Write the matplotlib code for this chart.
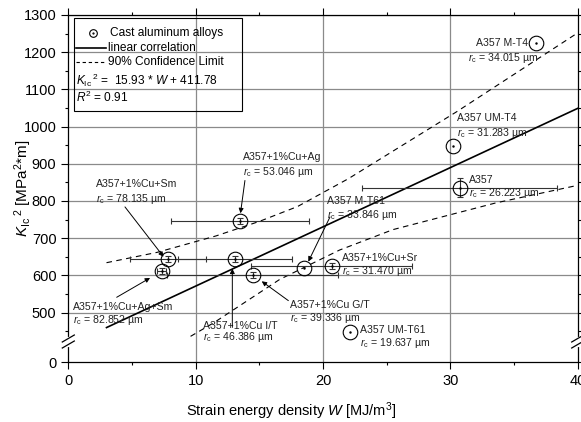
import numpy as np
import matplotlib
matplotlib.use("Agg")
import matplotlib.pyplot as plt
from matplotlib.patches import Rectangle

plt.rcParams['font.family'] = ['Liberation Sans', 'DejaVu Sans']
plt.rcParams['mathtext.fontset'] = 'custom'
plt.rcParams['mathtext.rm'] = 'Liberation Sans'
plt.rcParams['mathtext.it'] = 'Liberation Sans:italic'
plt.rcParams['mathtext.bf'] = 'Liberation Sans:bold'

# ---------------- data ----------------
alloys = ['A357+1%Cu+Ag+Sm', 'A357+1%Cu+Sm', 'A357+1%Cu I/T', 'A357+1%Cu+Ag',
          'A357+1%Cu G/T', 'A357 M-T61', 'A357+1%Cu+Sr', 'A357 UM-T61',
          'A357 UM-T4', 'A357', 'A357 M-T4']
rc_um = ['82.852', '78.135', '46.386', '53.046', '39.336', '33.846', '31.470',
         '19.637', '31.283', '26.223', '34.015']
W = [7.33, 7.85, 13.08, 13.48, 14.47, 18.5, 20.68, 22.1, 30.22, 30.73, 36.7]
K2 = [610.5, 645, 645, 746, 601.5, 620.5, 625, 449, 948, 836, 1225]
W_err = [0.35, 3.0, 4.5, 5.4, 6.7, np.nan, 6.3, np.nan, np.nan, 7.65, np.nan]
K2_err = [8, 8, 8, 8, 8, np.nan, 8, np.nan, np.nan, 26, np.nan]

fit_slope = 15.93
fit_intercept = 411.78
fit_R2 = 0.91
fit_W = [3, 40]

upper_W = [3, 7, 11.6, 15, 18, 22, 30.5, 40]
upper_K2 = [634, 662, 706, 745, 785, 860, 1040, 1252]
lower_W = [9.6, 11.4, 16.6, 21.3, 25.5, 33.6, 40]
lower_K2 = [436, 472, 589, 668, 723, 795, 842]

y_ticks = [500, 600, 700, 800, 900, 1000, 1100, 1200, 1300]

# ---------------- layout ----------------
Y0 = 367  # position that represents 0 below the axis break
fig = plt.figure(figsize=(5.81, 4.22), dpi=100)
ax = fig.add_axes([68.3 / 581, 1 - 362 / 422, 509.4 / 581, 347 / 422])
ax.set_xlim(0, 40)
ax.set_ylim(Y0, 1300)

grid_c = '#8a8a8a'
for yv in y_ticks:
    ax.axhline(yv, color=grid_c, lw=0.9, zorder=0)
for xv in [10, 20, 30]:
    ax.axvline(xv, color=grid_c, lw=0.9, zorder=0)

# fit line and confidence limits
fit_W = np.array(fit_W, dtype=float)
ax.plot(fit_W, fit_slope * fit_W + fit_intercept, color='black', lw=1.2, zorder=3)
ax.plot(upper_W, upper_K2, color='black', lw=0.8, ls=(0, (5, 4)), zorder=3)
ax.plot(lower_W, lower_K2, color='black', lw=0.8, ls=(0, (5, 4)), zorder=3)

# points
Wa = np.array(W); Ka = np.array(K2)
We = np.array(W_err); Ke = np.array(K2_err)
m = ~np.isnan(We)
ax.errorbar(Wa[m], Ka[m], xerr=We[m], yerr=Ke[m], fmt='none', ecolor='#333333',
            elinewidth=0.8, capsize=2.5, capthick=0.8, zorder=4)
ax.plot(Wa, Ka, 'o', mfc='none', mec='black', ms=10.5, mew=0.8, zorder=5)
ax.plot(Wa, Ka, '.', color='black', ms=1.5, zorder=5)

# annotations: (text x, line1 y, line2 y, line2 x, arrow start, arrow end)
ann = {
    'A357+1%Cu+Ag':     (13.72, 917.5, 877, 13.72, (13.87, 855), (13.52, 767)),
    'A357+1%Cu+Sm':     (2.18, 845, 804.5, 2.18, (4.45, 784), (7.48, 650)),
    'A357 UM-T4':       (30.52, 1022.6, 982.2, 30.52, None, None),
    'A357':             (31.47, 855.6, 820.5, 31.47, None, None),
    'A357 M-T61':       (20.29, 799, 763.5, 20.29, (20.55, 757), (18.85, 637)),
    'A357+1%Cu+Sr':     (21.47, 647.4, 611.2, 21.47, None, None),
    'A357+1%Cu G/T':    (17.41, 521.5, 485.7, 17.41, (17.28, 532), (15.19, 584)),
    'A357 UM-T61':      (22.9, 453.4, 417.3, 22.9, None, None),
    'A357+1%Cu I/T':    (10.6, 465, 433.5, 10.6, (12.88, 460), (12.88, 618)),
    'A357+1%Cu+Ag+Sm':  (0.39, 514.3, 481.1, 0.39, (3.8, 541), (6.42, 593)),
    'A357 M-T4':        (32.02, 1224.6, 1184.2, 31.4, None, None),
}
fs_ann = 7.6
for name, r in zip(alloys, rc_um):
    tx, y1, y2, tx2, a0, a1 = ann[name]
    ax.text(tx, y1, name, fontsize=fs_ann, va='center', ha='left', color='#222222', zorder=6)
    ax.text(tx2, y2, r'$r_{\rm c}$ = ' + r + ' µm', fontsize=fs_ann, va='center',
            ha='left', color='#222222', zorder=6)
    if a0 is not None:
        ax.annotate('', xy=a1, xytext=a0,
                    arrowprops=dict(arrowstyle='-|>', color='black', lw=0.7,
                                    mutation_scale=7, shrinkA=0, shrinkB=0), zorder=6)

# legend box (manual)
ax.add_patch(Rectangle((0.448, 1041.4), 13.62 - 0.448, 1291 - 1041.4, fill=False,
                       ec='black', lw=0.8, zorder=6))
fs_leg = 8.6
ax.plot([1.94], [1251.5], 'o', mfc='none', mec='black', ms=5.5, mew=0.8, zorder=7)
ax.plot([1.94], [1251.5], '.', color='black', ms=1.2, zorder=7)
ax.text(3.27, 1251.5, 'Cast aluminum alloys', fontsize=fs_leg, va='center', zorder=7)
ax.plot([0.6, 2.96], [1212.5, 1212.5], color='black', lw=1.2, zorder=7)
ax.text(3.12, 1212.5, 'linear correlation', fontsize=fs_leg, va='center', zorder=7)
ax.plot([0.6, 2.96], [1173.4, 1173.4], color='black', lw=0.8, ls=(0, (3, 2.5)), zorder=7)
ax.text(3.12, 1173.4, '90% Confidence Limit', fontsize=fs_leg, va='center', zorder=7)
ax.text(0.6, 1123.6, r'$K_{\rm Ic}\,^{2}$ =  %.2f * $W$ + %.2f' % (fit_slope, fit_intercept),
        fontsize=fs_leg, va='center', zorder=7)
ax.text(0.6, 1079, r'$R^2$ = %.2f' % fit_R2, fontsize=fs_leg, va='center', zorder=7)

# axes / ticks
ax.set_xticks([0, 10, 20, 30, 40])
ax.set_xticks([5, 15, 25, 35], minor=True)
ax.set_yticks([Y0] + y_ticks)
ax.set_yticklabels(['0'] + [str(v) for v in y_ticks])
ax.set_yticks([450] + [v + 50 for v in y_ticks[:-1]], minor=True)
ax.tick_params(which='both', direction='out', top=True, right=True, width=0.8,
               labelsize=10.5, colors='black')
ax.tick_params(which='major', length=5)
ax.tick_params(which='minor', length=2.5)
for s in ax.spines.values():
    s.set_linewidth(0.9)

# axis break marks
for xb in (0, 1):
    ax.plot([xb, xb], [0.0504, 0.0677], transform=ax.transAxes, color='white', lw=3,
            clip_on=False, zorder=8)
    for yc in (0.0504, 0.0677):
        ax.plot([xb - 0.0118, xb + 0.0118], [yc - 0.0101, yc + 0.0101],
                transform=ax.transAxes, color='black', lw=0.9, clip_on=False, zorder=9)

ax.text(-0.088, 0.5, r'$K_{\rm Ic}\,^{2}$ [MPa$^{2}$*m]', transform=ax.transAxes,
        rotation=90, va='center', ha='center', fontsize=11)
ax.text(0.437, -0.143, r'Strain energy density $W$ [MJ/m$^{3}$]', transform=ax.transAxes,
        va='center', ha='center', fontsize=10.5)

fig.savefig('out.png', dpi=100)
